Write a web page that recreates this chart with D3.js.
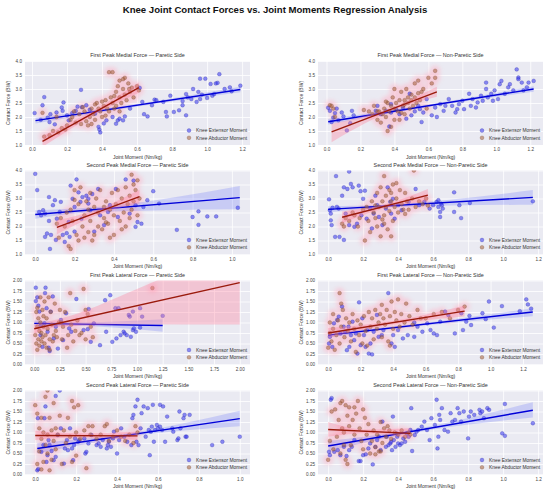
<!DOCTYPE html>
<html><head><meta charset="utf-8">
<script src="https://cdn.jsdelivr.net/npm/d3@7/dist/d3.min.js"></script>
<style>
body{margin:0;background:#fff;}
text{font-family:"Liberation Sans",Arial,Helvetica,sans-serif;}
</style></head>
<body><svg id="c" width="550" height="494"></svg>
<script>
const chartTitle = "Knee Joint Contact Forces vs. Joint Moments Regression Analysis";
const panelTitles = [
  "First Peak Medial Force \u2014 Paretic Side",
  "First Peak Medial Force \u2014 Non-Paretic Side",
  "Second Peak Medial Force \u2014 Paretic Side",
  "Second Peak Medial Force \u2014 Non-Paretic Side",
  "First Peak Lateral Force \u2014 Paretic Side",
  "First Peak Lateral Force \u2014 Non-Paretic Side",
  "Second Peak Lateral Force \u2014 Paretic Side",
  "Second Peak Lateral Force \u2014 Non-Paretic Side"
];
const seriesNames = ["Knee Extensor Moment", "Knee Abductor Moment"];
const xLabel = "Joint Moment (Nm/kg)";
const yLabel = "Contact Force (BW)";

const medialYTicks = [1.0,1.5,2.0,2.5,3.0,3.5,4.0];
const lateralYTicks = [0.00,0.25,0.50,0.75,1.00,1.25,1.50,1.75,2.00];
const medialYDomain = [1,4];
const lateralYDomain = [0,2];
const ticks02to12 = [0.0,0.2,0.4,0.6,0.8,1.0,1.2];
const ticks02to10 = [0.0,0.2,0.4,0.6,0.8,1.0];
const ticks025to20 = [0.00,0.25,0.50,0.75,1.00,1.25,1.50,1.75,2.00];
const xDomains = [[-0.04,1.245],[-0.05,1.275],[-0.052,1.092],[-0.058,1.228],[-0.09,2.1],[-0.063,1.323],[-0.05,1.05],[-0.058,1.228]];

// ---------- Panel 1: First Peak Medial, Paretic ----------
const p1Ext = [[0.015,2.14],[0.06,2.42],[0.07,2.71],[0.05,1.9],[0.09,1.98],[0.105,2.1],[0.1,1.82],[0.13,1.74],[0.14,2.16],[0.17,2.34],[0.175,2.22],[0.18,2.52],[0.2,2.06],[0.21,1.88],[0.23,2.14],[0.25,2.22],[0.26,2.37],[0.28,2.97],[0.285,2.35],[0.31,2.42],[0.33,2.26],[0.36,2.12],[0.38,1.65],[0.39,1.45],[0.385,1.55],[0.41,1.77],[0.425,1.88],[0.46,2.0],[0.48,1.76],[0.49,1.88],[0.5,1.94],[0.52,1.88],[0.53,2.02],[0.56,2.3],[0.615,3.04],[0.63,2.54],[0.64,2.1],[0.66,2.02],[0.685,2.42],[0.7,2.62],[0.75,2.54],[0.765,2.18],[0.77,2.02],[0.79,2.76],[0.81,2.18],[0.84,2.24],[0.86,2.57],[0.86,2.42],[0.88,2.06],[0.89,2.7],[0.91,2.64],[0.94,2.54],[0.95,2.9],[0.96,3.37],[0.97,2.8],[0.99,3.37],[1.0,2.68],[1.02,3.18],[1.03,2.76],[1.04,2.82],[1.05,3.2],[1.06,3.22],[1.07,3.53],[1.1,3.0],[1.13,3.06],[1.14,2.92],[1.19,3.12],[0.88,2.82],[0.71,2.6],[0.96,2.64],[0.92,3.0]];
const p1Abd = [[0.07,1.3],[0.1,1.35],[0.12,1.5],[0.15,1.45],[0.17,1.6],[0.2,1.7],[0.22,1.9],[0.23,2.0],[0.25,1.8],[0.27,2.1],[0.28,1.75],[0.3,2.2],[0.31,1.85],[0.32,1.7],[0.33,2.0],[0.34,2.3],[0.35,2.1],[0.36,1.9],[0.37,2.5],[0.38,2.3],[0.39,2.2],[0.4,2.0],[0.41,2.4],[0.42,2.6],[0.43,2.3],[0.44,2.2],[0.45,2.7],[0.46,2.5],[0.46,3.6],[0.47,2.3],[0.48,2.9],[0.49,3.1],[0.5,2.7],[0.5,3.3],[0.51,2.5],[0.52,3.0],[0.53,2.8],[0.53,3.4],[0.54,2.6],[0.55,3.2],[0.56,2.9],[0.57,3.05],[0.58,2.7],[0.6,3.1],[0.61,2.95],[0.44,3.6],[0.48,2.4],[0.34,1.75],[0.29,2.35],[0.24,2.2],[0.19,1.55],[0.14,2.0],[0.06,2.15],[0.36,2.45],[0.42,2.05],[0.5,2.2],[0.47,2.75],[0.52,3.35],[0.555,3.0],[0.4,2.55]];
const p1ExtLine = [[0.02,1.87],[1.19,2.98]];
const p1AbdLine = [[0.06,1.13],[0.61,3.05]];
const p1ExtBand = [[0.02,1.77,1.97],[0.55,2.32,2.42],[1.19,2.88,3.08]];
const p1AbdBand = [[0.06,0.93,1.33],[0.38,2.16,2.34],[0.61,2.87,3.23]];

// ---------- Panel 2: First Peak Medial, Non-Paretic ----------
const p2Ext = [[0.01,2.33],[0.02,2.22],[0.04,1.98],[0.03,1.82],[0.05,2.14],[0.06,2.3],[0.07,1.88],[0.09,2.16],[0.1,2.02],[0.12,1.52],[0.14,1.78],[0.15,2.22],[0.16,2.06],[0.29,2.22],[0.3,2.4],[0.32,2.1],[0.35,2.22],[0.38,2.46],[0.37,1.66],[0.38,2.16],[0.41,2.28],[0.43,2.1],[0.45,2.34],[0.47,1.94],[0.49,2.83],[0.5,2.06],[0.52,2.2],[0.54,2.4],[0.55,2.28],[0.56,1.82],[0.57,2.16],[0.59,2.64],[0.62,2.06],[0.64,2.34],[0.65,2.0],[0.67,2.46],[0.69,2.22],[0.7,2.4],[0.72,2.64],[0.74,2.4],[0.76,2.16],[0.77,2.28],[0.78,2.46],[0.8,2.58],[0.81,2.28],[0.84,2.83],[0.85,2.4],[0.86,2.64],[0.88,2.34],[0.89,2.52],[0.91,2.76],[0.92,2.58],[0.94,3.23],[0.94,3.0],[0.95,2.7],[0.97,2.83],[0.98,2.58],[0.99,2.95],[1.01,2.64],[1.02,3.17],[1.03,3.29],[1.05,2.83],[1.07,3.06],[1.08,3.17],[1.1,2.95],[1.12,3.7],[1.13,3.41],[1.15,3.23],[1.16,2.95],[1.18,3.06],[1.19,3.23],[1.22,3.29],[1.13,3.35]];
const p2Abd = [[0.02,2.42],[0.03,2.4],[0.04,2.3],[0.05,2.0],[0.25,2.2],[0.27,2.1],[0.28,2.4],[0.3,1.9],[0.31,2.2],[0.32,1.8],[0.33,2.1],[0.34,2.3],[0.35,2.0],[0.36,2.5],[0.36,1.5],[0.37,2.2],[0.38,1.65],[0.38,2.4],[0.39,2.7],[0.4,2.3],[0.4,3.0],[0.41,2.5],[0.42,2.2],[0.43,2.6],[0.43,1.9],[0.44,2.9],[0.45,2.4],[0.46,2.6],[0.46,2.1],[0.47,3.0],[0.48,2.5],[0.48,2.7],[0.49,2.3],[0.5,2.8],[0.5,2.6],[0.51,2.4],[0.52,3.2],[0.52,2.7],[0.53,2.5],[0.54,3.3],[0.54,2.85],[0.55,2.6],[0.56,2.9],[0.57,3.0],[0.6,3.4],[0.62,3.2],[0.64,3.4],[0.64,3.65],[0.59,2.3],[0.35,2.55],[0.44,2.15],[0.4,1.9],[0.46,2.45],[0.3,2.2],[0.22,2.25]];
const p2ExtLine = [[0.01,1.83],[1.22,3.0]];
const p2AbdLine = [[0.03,1.47],[0.65,2.9]];
const p2ExtBand = [[0.01,1.73,1.93],[0.6,2.355,2.445],[1.22,2.9,3.1]];
const p2AbdBand = [[0.03,1.1,1.75],[0.42,2.31,2.43],[0.65,2.72,3.08]];

// ---------- Panel 3: Second Peak Medial, Paretic ----------
const p3Ext = [[0.0,3.88],[0.01,3.3],[0.02,2.52],[0.03,2.4],[0.04,2.58],[0.05,2.46],[0.05,1.63],[0.06,1.75],[0.07,3.05],[0.07,2.2],[0.075,1.2],[0.08,1.7],[0.09,2.76],[0.1,2.94],[0.105,1.52],[0.11,2.28],[0.125,2.52],[0.13,2.88],[0.14,1.7],[0.15,1.45],[0.16,1.76],[0.17,2.16],[0.175,1.63],[0.18,3.46],[0.19,2.99],[0.2,2.7],[0.2,1.82],[0.21,3.68],[0.22,3.22],[0.23,2.88],[0.235,2.28],[0.24,3.05],[0.26,3.1],[0.27,2.82],[0.27,2.99],[0.28,2.58],[0.29,3.16],[0.3,1.82],[0.32,3.34],[0.33,2.4],[0.35,2.05],[0.37,2.52],[0.38,2.76],[0.41,3.34],[0.42,2.34],[0.46,3.68],[0.48,2.46],[0.5,3.64],[0.51,2.76],[0.51,1.99],[0.52,2.16],[0.54,2.1],[0.55,2.7],[0.57,2.94],[0.6,3.26],[0.63,2.82],[0.72,1.88],[0.8,2.34],[0.83,2.54],[0.83,2.06],[0.875,2.36],[0.92,2.36],[1.03,2.67]];
const p3Abd = [[0.11,2.1],[0.12,1.6],[0.13,2.3],[0.15,2.0],[0.16,2.5],[0.17,1.3],[0.18,1.2],[0.18,2.6],[0.19,2.2],[0.2,3.3],[0.21,1.7],[0.22,2.8],[0.22,1.5],[0.23,3.4],[0.24,2.0],[0.25,2.4],[0.25,1.6],[0.26,2.9],[0.27,1.8],[0.28,3.2],[0.28,2.2],[0.29,1.5],[0.3,2.7],[0.3,1.7],[0.31,3.0],[0.32,2.5],[0.32,2.0],[0.33,3.3],[0.34,1.9],[0.35,2.7],[0.35,2.3],[0.36,2.9],[0.37,2.1],[0.38,2.6],[0.38,1.6],[0.39,3.2],[0.4,2.4],[0.4,1.7],[0.41,2.8],[0.42,3.3],[0.43,2.2],[0.44,3.0],[0.45,2.5],[0.46,2.0],[0.46,3.4],[0.47,2.8],[0.48,2.3],[0.48,3.1],[0.49,2.6],[0.5,3.5],[0.5,2.9],[0.51,3.3],[0.52,3.65],[0.52,2.4],[0.53,3.0],[0.49,3.85],[0.44,1.9],[0.36,2.15],[0.27,2.6],[0.2,2.95]];
const p3ExtLine = [[0.0,2.43],[1.04,3.03]];
const p3AbdLine = [[0.11,1.97],[0.53,3.07]];
const p3ExtBand = [[0.0,2.28,2.58],[0.3,2.52,2.69],[1.04,2.62,3.45]];
const p3AbdBand = [[0.11,1.72,2.22],[0.35,2.5,2.7],[0.53,2.83,3.31]];

// ---------- Panel 4: Second Peak Medial, Non-Paretic ----------
const p4Ext = [[0.005,2.97],[0.01,2.58],[0.015,2.46],[0.015,2.22],[0.02,2.05],[0.025,2.67],[0.04,1.63],[0.045,3.8],[0.05,2.7],[0.06,2.64],[0.065,1.63],[0.08,3.1],[0.09,1.52],[0.09,3.4],[0.1,2.46],[0.11,3.34],[0.12,3.96],[0.13,3.52],[0.12,2.05],[0.14,3.4],[0.15,1.99],[0.165,2.1],[0.175,3.46],[0.185,3.26],[0.19,2.4],[0.2,2.99],[0.21,3.28],[0.22,2.28],[0.24,2.64],[0.25,1.93],[0.26,2.46],[0.27,3.1],[0.28,2.76],[0.29,2.34],[0.31,2.05],[0.33,2.64],[0.34,3.4],[0.355,2.88],[0.36,2.46],[0.37,2.99],[0.38,2.28],[0.4,2.76],[0.42,2.58],[0.46,2.88],[0.5,3.34],[0.52,2.76],[0.55,2.88],[0.58,2.64],[0.6,2.76],[0.62,2.88],[0.63,2.7],[0.64,2.52],[0.64,2.34],[0.645,2.82],[0.65,2.76],[0.655,2.64],[0.72,3.22],[0.72,2.52],[0.75,2.76],[0.76,2.3],[0.81,2.84],[1.17,2.9],[0.63,2.94]];
const p4Abd = [[0.08,2.1],[0.09,2.0],[0.1,2.3],[0.12,2.2],[0.14,2.5],[0.15,2.4],[0.17,2.0],[0.18,2.3],[0.2,2.6],[0.21,1.5],[0.22,2.7],[0.23,2.2],[0.24,1.8],[0.25,2.9],[0.26,2.5],[0.27,2.3],[0.28,3.2],[0.28,2.0],[0.29,2.7],[0.3,3.4],[0.3,1.65],[0.31,2.9],[0.32,2.4],[0.32,2.1],[0.33,3.1],[0.33,2.7],[0.34,1.9],[0.35,3.3],[0.35,2.55],[0.36,2.9],[0.36,1.65],[0.37,3.5],[0.37,2.2],[0.38,2.7],[0.39,3.0],[0.4,2.5],[0.41,3.3],[0.42,2.8],[0.43,2.6],[0.44,3.2],[0.45,2.9],[0.46,2.6],[0.48,3.0],[0.49,4.0],[0.5,2.7],[0.52,2.9],[0.54,2.8],[0.56,3.0],[0.57,2.75],[0.32,3.8],[0.39,3.55],[0.27,2.75],[0.44,2.45],[0.31,2.25],[0.36,3.2]];
const p4ExtLine = [[0.0,2.61],[1.17,3.04]];
const p4AbdLine = [[0.08,2.33],[0.57,3.12]];
const p4ExtBand = [[0.0,2.5,2.72],[0.35,2.69,2.79],[1.17,2.78,3.3]];
const p4AbdBand = [[0.08,2.12,2.54],[0.33,2.66,2.8],[0.57,2.9,3.34]];

// ---------- Panel 5: First Peak Lateral, Paretic ----------
const p5Ext = [[0.015,1.83],[0.015,1.51],[0.03,1.6],[0.04,1.4],[0.05,1.26],[0.065,0.94],[0.06,0.7],[0.08,0.42],[0.1,0.98],[0.105,1.7],[0.11,1.83],[0.12,1.34],[0.13,0.78],[0.14,0.4],[0.15,0.32],[0.16,1.26],[0.18,1.62],[0.19,0.62],[0.21,0.9],[0.23,0.38],[0.26,1.06],[0.28,0.58],[0.31,1.22],[0.34,0.86],[0.36,0.78],[0.41,1.56],[0.48,0.82],[0.52,0.84],[0.55,0.54],[0.58,0.98],[0.64,0.46],[0.69,1.53],[0.7,0.78],[0.74,1.65],[0.76,0.54],[0.79,1.34],[0.8,0.62],[0.82,1.34],[0.84,0.7],[0.87,0.78],[0.88,0.74],[0.9,0.7],[0.92,1.18],[0.93,1.14],[0.94,0.66],[0.96,1.26],[0.96,0.82],[0.97,0.86],[0.99,0.78],[1.03,1.34],[1.03,0.88],[1.05,1.14],[1.25,1.16],[0.53,1.32]];
const p5Abd = [[0.01,0.7],[0.02,1.25],[0.02,0.5],[0.03,0.9],[0.03,1.35],[0.04,0.6],[0.04,1.1],[0.05,0.8],[0.05,0.45],[0.06,1.0],[0.06,1.6],[0.07,0.55],[0.07,0.75],[0.08,1.3],[0.08,0.65],[0.09,0.9],[0.1,1.5],[0.1,0.5],[0.11,0.7],[0.12,1.1],[0.12,0.4],[0.13,0.85],[0.14,1.6],[0.15,0.6],[0.16,1.25],[0.17,0.95],[0.18,0.55],[0.2,1.45],[0.21,0.8],[0.22,0.65],[0.24,1.0],[0.25,1.3],[0.27,0.6],[0.28,0.9],[0.3,1.25],[0.32,0.4],[0.33,0.7],[0.35,1.7],[0.36,0.95],[0.38,0.55],[0.4,0.8],[0.42,1.05],[0.44,0.7],[0.46,0.75],[0.48,1.8],[0.5,1.3],[0.5,0.6],[0.52,1.2],[0.55,0.9],[0.57,0.65],[0.15,0.35],[0.03,0.35],[0.09,1.15],[0.19,0.7],[0.26,1.0],[1.15,1.82],[2.0,2.3]];
const p5ExtLine = [[0.0,0.98],[1.25,0.93]];
const p5AbdLine = [[0.0,0.85],[2.0,1.95]];
const p5ExtBand = [[0.0,0.91,1.05],[0.35,0.925,1.005],[1.25,0.78,1.08]];
const p5AbdBand = [[0.0,0.74,0.96],[0.25,0.9,1.09],[1.0,0.96,1.8],[2.0,0.95,2.9]];

// ---------- Panel 6: First Peak Lateral, Non-Paretic ----------
const p6Ext = [[0.005,0.5],[0.01,0.66],[0.025,0.42],[0.035,0.98],[0.055,1.06],[0.065,1.14],[0.075,0.74],[0.085,1.38],[0.095,0.9],[0.105,0.78],[0.115,0.34],[0.125,0.9],[0.13,0.42],[0.14,0.7],[0.15,1.02],[0.16,0.58],[0.17,0.74],[0.18,0.26],[0.19,1.48],[0.2,0.46],[0.21,1.1],[0.22,0.7],[0.23,0.42],[0.24,0.82],[0.25,0.26],[0.26,0.5],[0.27,0.24],[0.28,0.78],[0.3,1.18],[0.31,0.66],[0.33,0.7],[0.34,0.82],[0.37,1.7],[0.39,0.5],[0.4,0.7],[0.41,0.42],[0.43,0.82],[0.46,0.62],[0.49,0.7],[0.53,0.66],[0.55,0.9],[0.58,0.78],[0.61,0.98],[0.63,0.82],[0.65,0.74],[0.67,0.7],[0.69,1.02],[0.72,1.26],[0.74,1.18],[0.78,0.74],[0.82,1.22],[0.83,0.82],[0.85,1.02],[0.87,1.16],[0.88,0.94],[0.95,1.22],[0.97,1.08],[0.99,1.5],[1.02,0.88],[1.07,1.39],[1.18,1.27],[1.22,1.55],[1.23,1.43],[1.25,1.33],[0.53,1.0]];
const p6Abd = [[0.0,0.4],[0.01,0.75],[0.01,1.0],[0.02,0.55],[0.03,1.2],[0.03,0.85],[0.04,0.35],[0.05,0.7],[0.06,1.05],[0.07,1.7],[0.07,0.5],[0.08,1.45],[0.08,0.9],[0.09,1.3],[0.1,0.65],[0.11,1.1],[0.12,0.8],[0.13,1.0],[0.14,0.55],[0.15,1.2],[0.16,0.85],[0.17,0.3],[0.18,1.05],[0.19,0.7],[0.2,0.95],[0.21,0.5],[0.22,1.15],[0.23,0.8],[0.24,0.45],[0.25,1.25],[0.26,0.9],[0.27,1.1],[0.28,0.6],[0.29,1.3],[0.3,0.85],[0.31,1.0],[0.32,1.2],[0.33,0.65],[0.34,1.1],[0.35,0.95],[0.36,1.3],[0.37,0.55],[0.38,1.15],[0.39,1.5],[0.4,0.85],[0.41,1.25],[0.42,1.05],[0.43,1.55],[0.44,0.9],[0.45,1.2],[0.47,1.0],[0.5,1.15],[0.52,0.95],[0.55,1.3],[0.6,1.1],[0.65,1.2],[0.7,1.25],[0.75,1.1],[0.8,1.3],[0.84,1.38],[0.48,1.45],[0.38,0.45],[0.33,1.42],[0.57,1.1]];
const p6ExtLine = [[0.0,0.7],[1.26,1.25]];
const p6AbdLine = [[0.0,0.75],[0.84,1.27]];
const p6ExtBand = [[0.0,0.64,0.76],[0.4,0.845,0.905],[1.26,1.15,1.34]];
const p6AbdBand = [[0.0,0.63,0.87],[0.3,0.89,0.98],[0.84,1.14,1.4]];

// ---------- Panel 7: Second Peak Lateral, Paretic ----------
const p7Ext = [[0.01,0.1],[0.013,1.34],[0.015,0.13],[0.03,0.54],[0.04,0.7],[0.045,1.34],[0.05,1.62],[0.055,0.3],[0.06,0.46],[0.065,0.82],[0.07,0.7],[0.08,0.56],[0.09,0.34],[0.1,1.87],[0.1,0.42],[0.11,0.94],[0.12,2.0],[0.125,1.1],[0.14,0.26],[0.145,0.62],[0.155,0.82],[0.16,0.58],[0.17,1.1],[0.18,0.62],[0.185,0.34],[0.19,0.7],[0.195,0.86],[0.21,0.78],[0.215,0.82],[0.24,0.86],[0.245,0.5],[0.25,0.54],[0.26,0.74],[0.275,0.94],[0.3,0.7],[0.31,0.74],[0.32,0.66],[0.33,0.82],[0.35,0.62],[0.355,0.7],[0.36,0.78],[0.37,0.66],[0.38,0.86],[0.385,1.02],[0.4,0.5],[0.41,0.82],[0.42,1.1],[0.435,0.9],[0.45,0.78],[0.47,0.7],[0.475,1.34],[0.48,1.42],[0.49,1.62],[0.495,0.78],[0.5,1.78],[0.505,0.7],[0.515,1.1],[0.52,1.46],[0.53,1.62],[0.54,0.9],[0.55,1.58],[0.555,1.06],[0.56,0.46],[0.565,1.02],[0.57,1.14],[0.575,1.66],[0.58,0.78],[0.585,1.06],[0.595,1.18],[0.6,1.1],[0.61,1.66],[0.61,1.14],[0.62,1.06],[0.625,1.62],[0.635,0.78],[0.645,1.38],[0.67,1.1],[0.675,1.02],[0.695,0.82],[0.7,0.86],[0.705,1.5],[0.71,1.1],[0.725,1.34],[0.73,1.42],[0.735,0.9],[0.74,0.9],[0.755,1.42],[0.865,0.7],[0.915,0.78],[1.0,0.9]];
const p7Abd = [[0.0,1.65],[0.01,1.45],[0.01,0.25],[0.02,1.1],[0.02,0.55],[0.03,0.85],[0.03,1.35],[0.04,0.3],[0.04,1.0],[0.05,0.7],[0.05,1.85],[0.06,0.95],[0.06,0.5],[0.07,1.35],[0.07,0.1],[0.08,1.05],[0.08,0.35],[0.09,1.7],[0.09,0.8],[0.1,1.1],[0.1,0.6],[0.11,0.95],[0.12,1.4],[0.13,0.25],[0.14,1.05],[0.15,0.75],[0.16,1.35],[0.17,0.9],[0.18,0.3],[0.18,1.75],[0.19,1.6],[0.2,1.0],[0.2,0.45],[0.21,1.65],[0.22,0.85],[0.24,1.05],[0.25,0.15],[0.26,1.15],[0.27,0.95],[0.28,1.15],[0.3,0.85],[0.32,0.95],[0.34,1.15],[0.36,0.8],[0.38,0.9],[0.4,1.05],[0.42,0.9],[0.44,0.8],[0.46,0.95],[0.48,0.75],[0.5,1.0],[0.49,1.15],[0.35,1.2],[0.06,2.0],[0.03,0.12]];
const p7ExtLine = [[0.01,0.62],[1.0,1.33]];
const p7AbdLine = [[0.0,0.93],[0.5,0.92]];
const p7ExtBand = [[0.01,0.5,0.75],[0.45,0.895,0.975],[1.0,1.15,1.52]];
const p7AbdBand = [[0.0,0.82,1.04],[0.2,0.88,0.98],[0.5,0.82,1.02]];

// ---------- Panel 8: Second Peak Lateral, Non-Paretic ----------
const p8Ext = [[0.005,0.54],[0.01,0.46],[0.015,1.78],[0.02,1.82],[0.035,0.54],[0.055,0.58],[0.07,0.46],[0.09,0.66],[0.105,0.44],[0.12,0.58],[0.135,0.66],[0.15,0.82],[0.175,0.32],[0.185,0.32],[0.2,0.46],[0.215,0.48],[0.23,0.62],[0.24,0.74],[0.255,0.24],[0.27,0.66],[0.28,0.82],[0.29,0.9],[0.3,0.58],[0.31,1.26],[0.33,0.66],[0.335,0.9],[0.345,0.7],[0.355,0.74],[0.36,0.78],[0.365,0.58],[0.37,1.38],[0.375,0.82],[0.385,0.66],[0.39,0.98],[0.395,0.9],[0.4,0.74],[0.41,0.7],[0.42,0.74],[0.43,0.86],[0.44,0.78],[0.45,0.98],[0.46,0.9],[0.47,1.06],[0.475,1.58],[0.48,0.56],[0.495,0.94],[0.505,1.02],[0.515,1.06],[0.535,1.14],[0.55,1.26],[0.565,1.06],[0.58,0.82],[0.59,1.34],[0.61,1.18],[0.62,1.78],[0.625,0.62],[0.63,0.9],[0.635,1.42],[0.64,1.3],[0.65,1.58],[0.665,1.06],[0.685,1.02],[0.7,1.46],[0.71,1.26],[0.725,1.3],[0.74,1.58],[0.75,1.46],[0.76,1.26],[0.775,1.5],[0.8,0.86],[0.805,1.38],[0.815,1.5],[0.835,1.42],[0.865,1.54],[0.87,1.46],[0.88,1.5],[0.89,1.34],[0.91,1.58],[0.92,1.54],[0.995,0.98],[1.01,0.92],[1.01,1.68],[1.17,1.22]];
const p8Abd = [[0.0,0.35],[0.01,0.8],[0.02,1.5],[0.03,0.6],[0.04,1.55],[0.05,0.9],[0.06,1.3],[0.07,1.7],[0.07,0.5],[0.08,1.75],[0.08,1.1],[0.09,0.7],[0.1,1.65],[0.1,0.35],[0.11,0.25],[0.11,1.4],[0.12,1.15],[0.13,0.7],[0.14,1.3],[0.15,1.6],[0.15,0.95],[0.16,1.45],[0.17,1.75],[0.18,1.1],[0.19,0.8],[0.2,1.55],[0.2,0.6],[0.21,1.35],[0.22,0.95],[0.23,1.2],[0.24,0.5],[0.25,0.8],[0.26,1.05],[0.27,0.65],[0.28,0.95],[0.29,0.55],[0.3,1.25],[0.31,0.75],[0.32,1.1],[0.33,0.9],[0.34,1.15],[0.35,1.05],[0.36,0.85],[0.38,1.0],[0.4,0.95],[0.42,1.05],[0.44,0.9],[0.46,1.0],[0.47,0.95],[0.3,0.55],[0.12,1.6],[0.09,1.0],[0.27,0.48]];
const p8ExtLine = [[0.0,0.68],[1.17,1.53]];
const p8AbdLine = [[0.0,1.07],[0.47,0.98]];
const p8ExtBand = [[0.0,0.56,0.8],[0.45,0.965,1.05],[1.17,1.36,1.72]];
const p8AbdBand = [[0.0,0.9,1.25],[0.22,0.98,1.07],[0.47,0.86,1.1]];

const panels = [
  {ext:p1Ext, abd:p1Abd, extLine:p1ExtLine, abdLine:p1AbdLine, extBand:p1ExtBand, abdBand:p1AbdBand, xt:ticks02to12, fmt:".1f", lat:false},
  {ext:p2Ext, abd:p2Abd, extLine:p2ExtLine, abdLine:p2AbdLine, extBand:p2ExtBand, abdBand:p2AbdBand, xt:ticks02to12, fmt:".1f", lat:false},
  {ext:p3Ext, abd:p3Abd, extLine:p3ExtLine, abdLine:p3AbdLine, extBand:p3ExtBand, abdBand:p3AbdBand, xt:ticks02to10, fmt:".1f", lat:false},
  {ext:p4Ext, abd:p4Abd, extLine:p4ExtLine, abdLine:p4AbdLine, extBand:p4ExtBand, abdBand:p4AbdBand, xt:ticks02to12, fmt:".1f", lat:false},
  {ext:p5Ext, abd:p5Abd, extLine:p5ExtLine, abdLine:p5AbdLine, extBand:p5ExtBand, abdBand:p5AbdBand, xt:ticks025to20, fmt:".2f", lat:true},
  {ext:p6Ext, abd:p6Abd, extLine:p6ExtLine, abdLine:p6AbdLine, extBand:p6ExtBand, abdBand:p6AbdBand, xt:ticks02to12, fmt:".1f", lat:true},
  {ext:p7Ext, abd:p7Abd, extLine:p7ExtLine, abdLine:p7AbdLine, extBand:p7ExtBand, abdBand:p7AbdBand, xt:ticks02to10, fmt:".1f", lat:true},
  {ext:p8Ext, abd:p8Abd, extLine:p8ExtLine, abdLine:p8AbdLine, extBand:p8ExtBand, abdBand:p8AbdBand, xt:ticks02to12, fmt:".1f", lat:true}
];

// ---------- drawing ----------
const svg = d3.select("#c");
const colLeft = [25, 318], pw = 225, rowTop = [61, 170.5, 280.5, 390.5], ph = 84;
const EXT = {fill:"#3333ee", stroke:"#1a1aa0", line:"#0000d8", band:"#3344ff"};
const ABD = {fill:"#a5603a", stroke:"#6b3a1e", line:"#9a1a0c", band:"#ff7f9a"};

svg.append("text").attr("x",275).attr("y",13).attr("text-anchor","middle")
  .attr("font-weight","bold").attr("font-size","9.6px").attr("fill","#111").text(chartTitle);

const defs = svg.append("defs");
defs.append("filter").attr("id","soft").attr("x","-20%").attr("y","-20%").attr("width","140%").attr("height","140%")
  .append("feGaussianBlur").attr("stdDeviation",2.2);

panels.forEach((p,i)=>{
  const L = colLeft[i%2], T = rowTop[Math.floor(i/2)];
  const x = d3.scaleLinear().domain(xDomains[i]).range([L, L+pw]);
  const yd = p.lat ? lateralYDomain : medialYDomain;
  const yt = p.lat ? lateralYTicks : medialYTicks;
  const y = d3.scaleLinear().domain(yd).range([T+ph, T]);
  const g = svg.append("g");
  const cid = "clip"+i;
  defs.append("clipPath").attr("id",cid).append("rect").attr("x",L).attr("y",T).attr("width",pw).attr("height",ph);

  g.append("rect").attr("x",L).attr("y",T).attr("width",pw).attr("height",ph).attr("fill","#EAEAF2");

  const gx = g.append("g").attr("transform",`translate(0,${T+ph})`)
    .call(d3.axisBottom(x).tickValues(p.xt).tickFormat(d3.format(p.fmt)).tickSize(-ph).tickPadding(3));
  const gy = g.append("g").attr("transform",`translate(${L},0)`)
    .call(d3.axisLeft(y).tickValues(yt).tickFormat(d3.format(p.lat?".2f":".1f")).tickSize(-pw).tickPadding(3));
  [gx,gy].forEach(a=>{
    a.select(".domain").remove();
    a.selectAll(".tick line").attr("stroke","#fff").attr("stroke-width",0.8);
    a.selectAll(".tick text").attr("fill","#444").attr("font-size","4.6px")
      .attr("font-family","'Liberation Sans',Arial,sans-serif");
  });

  const pg = g.append("g").attr("clip-path",`url(#${cid})`);
  // soft pink region around abductor points
  const halo = pg.append("g").attr("opacity",0.55);
  halo.append("g").attr("filter","url(#soft)").selectAll("circle").data(p.abd).join("circle")
    .attr("cx",d=>x(d[0])).attr("cy",d=>y(d[1])).attr("r",5).attr("fill","#ffb3c6");

  const area = d3.area().x(d=>x(d[0])).y0(d=>y(d[1])).y1(d=>y(d[2])).curve(d3.curveMonotoneX);
  const line = d3.line().x(d=>x(d[0])).y(d=>y(d[1]));

  function series(pts, band, ln, C, bandOp){
    pg.append("g").selectAll("circle").data(pts).join("circle")
      .attr("cx",d=>x(d[0])).attr("cy",d=>y(d[1])).attr("r",1.9)
      .attr("fill",C.fill).attr("fill-opacity",0.55)
      .attr("stroke",C.stroke).attr("stroke-opacity",0.6).attr("stroke-width",0.4);
    pg.append("path").datum(band).attr("d",area).attr("fill",C.band).attr("fill-opacity",bandOp);
    pg.append("path").datum(ln).attr("d",line).attr("stroke",C.line).attr("stroke-width",1.4).attr("fill","none");
  }
  series(p.ext, p.extBand, p.extLine, EXT, 0.18);
  series(p.abd, p.abdBand, p.abdLine, ABD, 0.35);

  g.append("text").attr("x",L+pw/2).attr("y",T-4).attr("text-anchor","middle")
    .attr("font-size","5.4px").attr("fill","#333").text(panelTitles[i]);
  g.append("text").attr("x",L+pw/2).attr("y",T+ph+13.5).attr("text-anchor","middle")
    .attr("font-size","5px").attr("fill","#333").text(xLabel);
  g.append("text").attr("transform",`translate(${L-15},${T+ph/2}) rotate(-90)`).attr("text-anchor","middle")
    .attr("font-size","5px").attr("fill","#333").text(yLabel);

  const lg = g.append("g").attr("transform",`translate(${L+pw-61},${T+ph-14.5})`);
  [EXT,ABD].forEach((C,k)=>{
    lg.append("circle").attr("cx",0).attr("cy",k*7.3).attr("r",1.9)
      .attr("fill",C.fill).attr("fill-opacity",0.55).attr("stroke",C.stroke).attr("stroke-opacity",0.6).attr("stroke-width",0.4);
    lg.append("text").attr("x",7).attr("y",k*7.3+1.7).attr("font-size","4.9px").attr("fill","#333").text(seriesNames[k]);
  });
});
</script></body></html>
